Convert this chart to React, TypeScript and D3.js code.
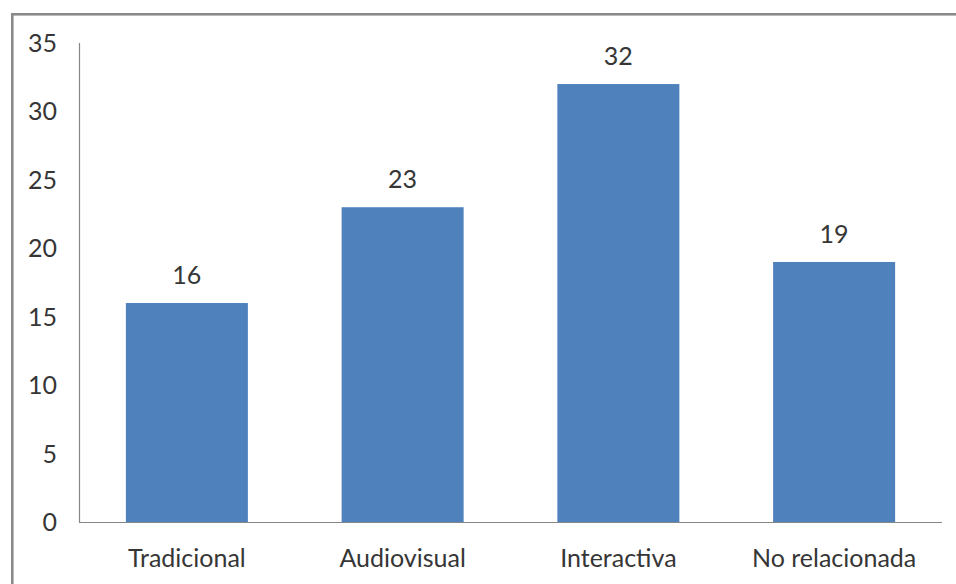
import React from "react";
import * as d3 from "d3";

const categories = ["Tradicional", "Audiovisual", "Interactiva", "No relacionada"];
const values = [16, 23, 32, 19];
const yTicks = [0, 5, 10, 15, 20, 25, 30, 35];

const W = 956;
const H = 584;
const FONT = "Lato, 'Open Sans', sans-serif";
const FS = 25;
const TEXT = "#363636";
const AXIS = "#868686";
const BAR = "#4f81bd";

export default function App() {
  const x = d3
    .scaleBand<string>()
    .domain(categories)
    .range([79, 942])
    .paddingInner(0.4345)
    .paddingOuter(0.4345 / 2);
  const y = d3.scaleLinear().domain([0, 35]).range([522, 43]);

  return (
    <svg
      width={W}
      height={H}
      style={{ position: "absolute", left: 0, top: 0, background: "#fff" }}
      fontFamily={FONT}
    >
      {/* chart frame */}
      <rect x={12.3} y={14.3} width={W + 20} height={H + 20} fill="#fff" stroke="#8a8a8a" strokeWidth={2.6} />

      {/* bars */}
      {categories.map((c, i) => (
        <rect
          key={c}
          x={x(c)!}
          y={y(values[i])}
          width={x.bandwidth()}
          height={y(0) - y(values[i])}
          fill={BAR}
        />
      ))}

      {/* value labels */}
      {categories.map((c, i) => (
        <text
          key={c}
          x={x(c)! + x.bandwidth() / 2}
          y={y(values[i]) - 19}
          textAnchor="middle"
          fontSize={FS}
          fill={TEXT}
        >
          {values[i]}
        </text>
      ))}

      {/* axes */}
      <line x1={79.5} x2={79.5} y1={y(35)} y2={y(0)} stroke={AXIS} strokeWidth={1.2} />
      <line x1={79} x2={942} y1={y(0) + 0.5} y2={y(0) + 0.5} stroke={AXIS} strokeWidth={1.2} />

      {yTicks.map((t) => (
        <text
          key={t}
          x={57}
          y={y(t)}
          dy="0.36em"
          textAnchor="end"
          fontSize={FS}
          fill={TEXT}
        >
          {t}
        </text>
      ))}

      {categories.map((c) => (
        <text
          key={c}
          x={x(c)! + x.bandwidth() / 2}
          y={567}
          textAnchor="middle"
          fontSize={FS}
          fill={TEXT}
        >
          {c}
        </text>
      ))}
    </svg>
  );
}
